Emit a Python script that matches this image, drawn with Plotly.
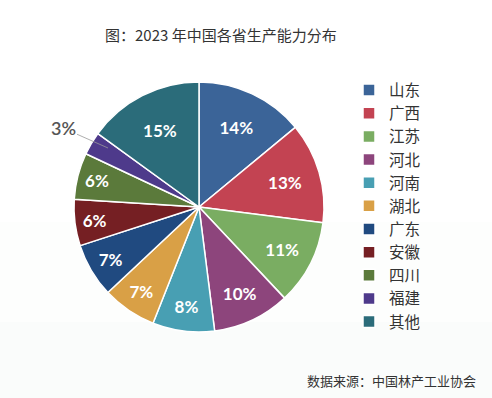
import plotly.graph_objects as go

provinces = ["山东", "广西", "江苏", "河北", "河南", "湖北", "广东", "安徽", "四川", "福建", "其他"]
shares = [14, 13, 11, 10, 8, 7, 7, 6, 6, 3, 15]
colors = ["#3b6498", "#c34352", "#7aad62", "#8d457c", "#489fb3", "#d9a046",
          "#204a80", "#751f23", "#5b7a3b", "#4e3a8b", "#2b6c7a"]
title_text = "图：2023 年中国各省生产能力分布"
source_text = "数据来源：中国林产工业协会"

W, H = 492, 398
cx, cy, r = 199, 207, 125

textpos = ["inside" if v >= 5 else "none" for v in shares]

fig = go.Figure(go.Pie(
    labels=provinces,
    values=shares,
    sort=False,
    direction="clockwise",
    rotation=0,
    marker=dict(colors=colors, line=dict(color="white", width=1.5)),
    texttemplate="%{value}%",
    textposition=textpos,
    insidetextorientation="horizontal",
    insidetextfont=dict(family="Lato", size=17, color="white", weight="bold"),
    hoverinfo="label+percent",
    domain=dict(x=[(cx - r) / W, (cx + r) / W], y=[(H - cy - r) / H, (H - cy + r) / H]),
    showlegend=True,
))

small_idx = [i for i, v in enumerate(shares) if v < 5][0]

fig.update_layout(
    width=W, height=H,
    margin=dict(l=0, r=0, t=0, b=0),
    paper_bgcolor="white",
    plot_bgcolor="white",
    font=dict(family="Noto Sans CJK SC", color="#333333"),
    legend=dict(
        x=349 / W, y=1 - 73.5 / H, xanchor="left", yanchor="top",
        font=dict(family="Noto Sans CJK SC", size=15.5, color="#333333"),
        bgcolor="rgba(0,0,0,0)",
        itemwidth=30,
        itemclick=False,
    ),
    shapes=[
        dict(type="rect", xref="paper", yref="paper", x0=0, x1=1, y0=1 - 322 / H, y1=1 - 222 / H,
             fillcolor="#fdfefd", line=dict(width=0), layer="below"),
        dict(type="rect", xref="paper", yref="paper", x0=0, x1=1, y0=0, y1=1 - 322 / H,
             fillcolor="#fafcfb", line=dict(width=0), layer="below"),
    ],
    annotations=[
        dict(text=title_text, x=221 / W, y=1 - 34 / H, xref="paper", yref="paper",
             showarrow=False, xanchor="center", yanchor="middle",
             font=dict(family="Noto Sans CJK SC", size=15, color="#333333")),
        dict(text=source_text, x=478 / W, y=1 - 380 / H, xref="paper", yref="paper",
             showarrow=False, xanchor="right", yanchor="middle",
             font=dict(family="Noto Sans CJK SC", size=13, color="#333333")),
        dict(text=f"{shares[small_idx]}%", x=108 / W, y=1 - 148 / H, xref="paper", yref="paper",
             ax=-45, ay=-20, axref="pixel", ayref="pixel",
             showarrow=True, arrowhead=0, arrowwidth=0.8, arrowcolor="#999999",
             font=dict(family="Lato", size=18, color="#555555", weight=600)),
    ],
)

fig.write_html("out.html", config={"displayModeBar": False},
               post_script="document.body.style.margin='0';")
